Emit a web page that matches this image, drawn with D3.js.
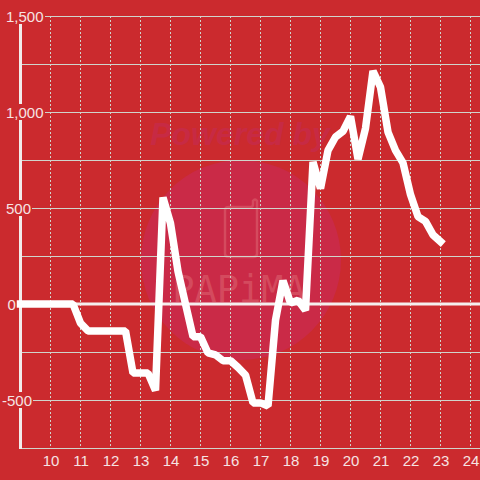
<!DOCTYPE html>
<html><head><meta charset="utf-8">
<script src="https://cdn.jsdelivr.net/npm/d3@7/dist/d3.min.js"></script>
<style>html,body{margin:0;padding:0;background:#cb2a2e}svg{display:block}</style>
</head><body><svg id="c" width="480" height="480"></svg>
<script>
const xTicks=[10,11,12,13,14,15,16,17,18,19,20,21,22,23,24];
const yTicks=[-500,0,500,1000,1500];
const yGrid=[-750,-500,-250,0,250,500,750,1000,1250,1500];
const hours=[9,9.25,9.5,9.75,10,10.25,10.5,10.75,11,11.25,11.5,11.75,12,12.25,12.5,12.75,13,13.25,13.5,13.75,14,14.25,14.5,14.75,15,15.25,15.5,15.75,16,16.25,16.5,16.75,17,17.25,17.5,17.75,18,18.25,18.5,18.75,19,19.25,19.5,19.75,20,20.25,20.5,20.75,21,21.25,21.5,21.75,22,22.25,22.5,22.75,23];
const values=[0,0,0,0,0,0,0,0,-100,-140,-140,-140,-140,-140,-140,-360,-360,-360,-450,555,420,170,0,-170,-170,-255,-265,-295,-295,-330,-370,-515,-515,-531,-85,122,5,20,-33,740,601,800,870,900,977,755,915,1213,1130,895,800,735,570,455,430,360,325];
const bg="#cb2a2e",grid="#d0d4cc",font="Liberation Sans, Arial, sans-serif",labelFill="#f6e3e3",wmStroke="#d44a5e";
const x=d3.scaleLinear().domain([10,24]).range([50.5,470.5]);
const y=d3.scaleLinear().domain([0,1500]).range([304,16]);
const svg=d3.select("#c");
svg.append("rect").attr("width",480).attr("height",480).attr("fill",bg);
// watermark
const wm=svg.append("g");
wm.append("circle").attr("cx",241).attr("cy",260).attr("r",100).attr("fill","#ca2a47");
wm.append("text").attr("x",240).attr("y",145).attr("text-anchor","middle").attr("font-family",font).attr("font-weight","bold").attr("font-style","italic").attr("font-size",32).attr("fill","#c72a44").text("Powered by");
wm.append("text").attr("x",239).attr("y",302).attr("text-anchor","middle").attr("font-family","DejaVu Sans Mono, monospace").attr("font-size",37).attr("fill",wmStroke).text("PAPiMA");
wm.append("path").attr("d","M229,207H251Q253,207 253,204V201Q255,198 257,201V254Q257,257 253,257H229Q225,257 225,254V210Q225,207 229,207Z").attr("fill","none").attr("stroke",wmStroke).attr("stroke-width",2.5);
// grid
svg.append("g").selectAll("line").data(xTicks).join("line").attr("x1",d=>x(d)).attr("x2",d=>x(d)).attr("y1",y(1500)).attr("y2",446).attr("stroke",grid).attr("stroke-dasharray","2,2");
svg.append("g").selectAll("line").data(yGrid).join("line").attr("x1",20).attr("x2",480).attr("y1",d=>y(d)+.5).attr("y2",d=>y(d)+.5).attr("stroke",grid);
// axes
svg.append("line").attr("x1",20.5).attr("x2",20.5).attr("y1",16).attr("y2",y(-750)+1).attr("stroke","#f2ecec").attr("stroke-width",3);
svg.append("line").attr("x1",17).attr("x2",480).attr("y1",y(0)).attr("y2",y(0)).attr("stroke","#f5eeee").attr("stroke-width",3);
const fmt=d3.format(",");
const labelStart=d=>d===-500?2:(d===0?7.5:6);
const labelEnd={"-500":33,"0":17,"500":32,"1000":45,"1500":45};
const ty=svg.append("g").selectAll("g").data(yTicks).join("g");
ty.append("rect").attr("x",d=>labelStart(d)-2).attr("y",d=>y(d)-8).attr("width",d=>labelEnd[d]-labelStart(d)+2).attr("height",16).attr("fill",bg);
ty.append("text").attr("x",labelStart).attr("y",d=>y(d)+6).attr("font-family",font).attr("font-size",15).attr("fill",labelFill).text(d=>fmt(d).replace("−","-"));
svg.append("g").selectAll("text").data(xTicks).join("text").attr("x",d=>x(d)+.5).attr("y",466).attr("text-anchor","middle").attr("font-family",font).attr("font-size",15).attr("fill",labelFill).text(d=>d);
// series
svg.append("path").datum(hours.map((h,i)=>[h,values[i]])).attr("d",d3.line().x(d=>x(d[0])).y(d=>y(d[1]))).attr("fill","none").attr("stroke","#fff").attr("stroke-width",7.5).attr("stroke-linejoin","bevel").attr("stroke-linecap","square");
</script></body></html>
